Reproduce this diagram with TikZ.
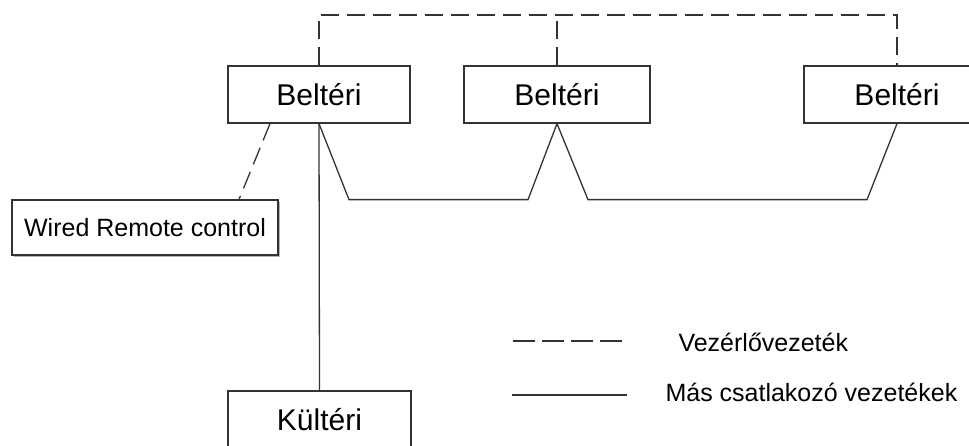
\documentclass[tikz,border=0pt]{standalone}
\usepackage{fontspec}
\setmainfont{Liberation Sans}
\usetikzlibrary{calc}

\begin{document}
\begin{tikzpicture}[x=1pt, y=1pt,
    unit/.style={draw=black!80, line width=1.3pt, fill=white, minimum height=57pt, inner sep=0pt, font=\fontsize{30}{36}\selectfont},
    ctrl/.style={draw=black!80, line width=1.3pt, dash pattern=on 18pt off 8pt},
    wire/.style={draw=black!80, line width=1.3pt}]
    \useasboundingbox (0,0) rectangle (969,445);
    \clip (0,0) rectangle (969,445);

    \node[unit, minimum width=182pt] (B1) at (319,350.5) {Beltéri};
    \node[unit, minimum width=186pt] (B2) at (557,350.5) {Beltéri};
    \node[unit, minimum width=186pt] (B3) at (897,350.5) {Beltéri};
    \node[unit, minimum width=183pt] (K) at (319.5,25.5) {Kültéri};

    \fill[black!30] (14,188) rectangle (280,243);
    \node[draw=black!80, line width=1.2pt, fill=white, minimum width=266pt, minimum height=55pt, inner sep=0pt, font=\fontsize{25}{30}\selectfont] (R) at (145,217.5) {Wired Remote control};

    \coordinate (top1) at (319,430);
    \coordinate (top3) at (897,430);
    \draw[ctrl] (B1.north) -- (top1) -- (top3) -- (B3.north);
    \draw[ctrl] (B2.north) -- (B2.north |- top1);
    \draw[ctrl] ([xshift=-49pt]B1.south) -- ([xshift=94pt]R.north);

    \draw[wire] (B1.south) -- (K.north);
    \draw[wire] (B1.south) -- ++(30,-76) -- ++(179,0) -- (B2.south) -- ++(31,-76) -- ++(279,0) -- (B3.south);

    \node[anchor=west, font=\fontsize{25}{30}\selectfont] (LV) at (675,103) {Vezérlővezeték};
    \node[anchor=west, font=\fontsize{25}{30}\selectfont] (LM) at (662,52.5) {Más csatlakozó vezetékek};
    \coordinate (lva) at (513,104);
    \coordinate (lvb) at (627,104);
    \coordinate (lma) at (512,50);
    \coordinate (lmb) at (627,50);
    \draw[ctrl, dash pattern=on 22pt off 7pt] (lva) -- (lvb);
    \draw[wire] (lma) -- (lmb);
\end{tikzpicture}
\end{document}
